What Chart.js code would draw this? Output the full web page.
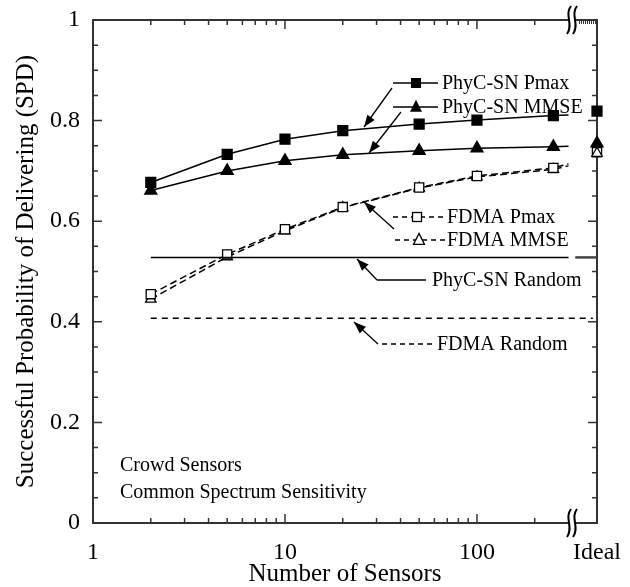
<!DOCTYPE html>
<html>
<head>
<meta charset="utf-8">
<script src="https://cdn.jsdelivr.net/npm/chart.js@4/dist/chart.umd.min.js"></script>
<style>
html,body{margin:0;padding:0;background:#fff;}
#c{display:block;}
</style>
</head>
<body>
<canvas id="c" width="630" height="587"></canvas>
<script>
// ---------- data ----------
const sensors   = [2, 5, 10, 20, 50, 100, 250, 300];          // last x: line end, no marker
const markerOn  = [1, 1, 1, 1, 1, 1, 1, 0];
const phycPmax  = [0.677, 0.733, 0.763, 0.780, 0.793, 0.801, 0.810, 0.811];
const phycMmse  = [0.661, 0.700, 0.720, 0.732, 0.740, 0.745, 0.748, 0.749];
const fdmaPmax  = [0.455, 0.534, 0.584, 0.628, 0.667, 0.690, 0.706, 0.714];
const fdmaMmse  = [0.445, 0.529, 0.581, 0.627, 0.666, 0.688, 0.703, 0.710];
const idealSeries = ['PhyC-SN Pmax', 'PhyC-SN MMSE', 'FDMA Pmax', 'FDMA MMSE'];
const idealSPD    = [0.819, 0.755, 0.737, 0.735];
const phycRandom  = 0.528;
const fdmaRandom  = 0.407;
const phycRandomX = [2, 300];
const phycRandomIdealX = [325, 422];
const fdmaRandomX = [2, 402];
const xTickValues = [1, 10, 100];
const idealLabel  = 'Ideal';
const X_MIN = 1, X_MAX = 422;
const yTickLabels = ['0', '0.2', '0.4', '0.6', '0.8', '1'];

const FONT = '"Liberation Serif", "Times New Roman", serif';
const pts = (xs, ys) => xs.map((x, i) => ({x: x, y: ys[i]}));

// ---------- plugin: frame, inward ticks, breaks, annotations ----------
const decor = {
  id: 'decor',
  beforeDatasetsDraw(chart) {
    const {ctx, chartArea: a, scales: {x, y}} = chart;
    const breakX = a.right - 25;
    ctx.save();
    ctx.strokeStyle = '#333';
    ctx.lineWidth = 2;
    ctx.lineCap = 'square';
    ctx.beginPath();
    ctx.moveTo(a.left, a.bottom); ctx.lineTo(a.right, a.bottom);
    ctx.moveTo(a.left, a.bottom); ctx.lineTo(a.left, a.top);
    ctx.moveTo(a.left, a.top); ctx.lineTo(a.right, a.top);
    ctx.moveTo(a.right, a.top); ctx.lineTo(a.right, a.bottom);
    ctx.stroke();
    // ticks
    ctx.lineWidth = 1.5;
    ctx.lineCap = 'butt';
    ctx.beginPath();
    for (const d of [1, 10, 100]) {
      for (let m = 1; m <= 9; m++) {
        const v = d * m;
        if (v > 200 || v <= X_MIN) continue;
        const px = x.getPixelForValue(v);
        const L = m === 1 ? 9 : 5;
        ctx.moveTo(px, a.bottom); ctx.lineTo(px, a.bottom - L);
        ctx.moveTo(px, a.top); ctx.lineTo(px, a.top + L);
      }
    }
    for (let i = 1; i < 20; i++) {
      const v = i * 0.05;
      const py = y.getPixelForValue(v);
      const L = i % 4 === 0 ? 9 : 5;
      ctx.moveTo(a.left, py); ctx.lineTo(a.left + L, py);
      ctx.moveTo(a.right, py); ctx.lineTo(a.right - L, py);
    }
    ctx.stroke();
    // dense hatch on top after the break
    ctx.lineWidth = 1;
    ctx.beginPath();
    for (let px = breakX + 7; px < a.right; px += 2) {
      ctx.moveTo(px + 0.5, a.top); ctx.lineTo(px + 0.5, a.top + 4);
    }
    ctx.stroke();
    // break symbols
    for (const yy of [a.top, a.bottom]) {
      ctx.fillStyle = '#fff';
      ctx.fillRect(breakX - 3, yy - 2, 6, 4);
      ctx.strokeStyle = '#000';
      ctx.lineWidth = 2;
      for (const dx of [-3, 3]) {
        const cx = breakX + dx;
        ctx.beginPath();
        ctx.moveTo(cx + 2, yy - 14);
        ctx.bezierCurveTo(cx - 5, yy - 5, cx + 5, yy + 4, cx - 2, yy + 14);
        ctx.stroke();
      }
    }
    ctx.restore();
  },
  afterDraw(chart) {
    const {ctx} = chart;
    ctx.save();
    ctx.fillStyle = '#000';
    ctx.strokeStyle = '#000';
    ctx.font = '20px ' + FONT;
    ctx.textBaseline = 'middle';
    ctx.textAlign = 'left';

    const arrow = (x1, y1, x2, y2) => {
      ctx.lineWidth = 1.3;
      ctx.setLineDash([]);
      ctx.beginPath(); ctx.moveTo(x1, y1); ctx.lineTo(x2, y2); ctx.stroke();
      const ang = Math.atan2(y2 - y1, x2 - x1);
      const L = 12, W = 4.5;
      ctx.beginPath();
      ctx.moveTo(x2, y2);
      ctx.lineTo(x2 - L * Math.cos(ang) + W * Math.sin(ang), y2 - L * Math.sin(ang) - W * Math.cos(ang));
      ctx.lineTo(x2 - L * Math.cos(ang) - W * Math.sin(ang), y2 - L * Math.sin(ang) + W * Math.cos(ang));
      ctx.closePath(); ctx.fill();
    };
    const legLine = (x1, x2, yy, dash) => {
      ctx.lineWidth = 1.3;
      ctx.setLineDash(dash);
      ctx.beginPath(); ctx.moveTo(x1, yy); ctx.lineTo(x2, yy); ctx.stroke();
      ctx.setLineDash([]);
    };
    const square = (cx, cy, s, filled) => {
      ctx.lineWidth = 1.3;
      if (filled) { ctx.fillRect(cx - s / 2, cy - s / 2, s, s); }
      else { ctx.fillStyle = '#fff'; ctx.fillRect(cx - s / 2, cy - s / 2, s, s); ctx.fillStyle = '#000'; ctx.strokeRect(cx - s / 2, cy - s / 2, s, s); }
    };
    const tri = (cx, cy, s, filled) => {
      ctx.lineWidth = 1.3;
      ctx.beginPath();
      ctx.moveTo(cx, cy - s * 0.6); ctx.lineTo(cx + s / 2, cy + s * 0.4); ctx.lineTo(cx - s / 2, cy + s * 0.4); ctx.closePath();
      if (filled) ctx.fill(); else { ctx.fillStyle = '#fff'; ctx.fill(); ctx.fillStyle = '#000'; ctx.stroke(); }
    };

    // PhyC-SN Pmax / MMSE
    legLine(393, 438, 83, []); square(416, 83, 10, true);
    ctx.fillText('PhyC-SN Pmax', 442, 84);
    legLine(393, 438, 107, []); tri(416, 107, 12, true);
    ctx.fillText('PhyC-SN MMSE', 442, 108);
    arrow(392, 88, 364, 127);
    arrow(401, 112, 369, 153);

    // FDMA Pmax / MMSE
    legLine(393, 443, 217, [5, 4]); square(417, 217, 9, false);
    ctx.fillText('FDMA Pmax', 447, 218);
    legLine(395, 445, 240, [5, 4]); tri(419, 240, 11, false);
    ctx.fillText('FDMA MMSE', 447, 241);
    arrow(394, 229, 364, 202);

    // Random
    legLine(377, 426, 280, []);
    ctx.fillText('PhyC-SN Random', 432, 281);
    arrow(377, 280, 357, 259);
    legLine(382, 433, 344, [5, 4]);
    ctx.fillText('FDMA Random', 437, 345);
    arrow(378, 344, 354, 322);

    // scenario text
    ctx.fillText('Crowd Sensors', 120, 466);
    ctx.fillText('Common Spectrum Sensitivity', 120, 493);
    ctx.restore();
  }
};

const solid = {borderColor: '#000', borderWidth: 1.5, pointBorderColor: '#000', pointBorderWidth: 1.3, showLine: true, clip: false};
const dashed = Object.assign({}, solid, {borderDash: [7, 4]});

new Chart(document.getElementById('c'), {
  type: 'scatter',
  data: {
    datasets: [
      Object.assign({}, solid, {label: 'PhyC-SN Random', data: pts(phycRandomX, phycRandomX.map(() => phycRandom)), pointRadius: 0}),
      Object.assign({}, solid, {label: 'PhyC-SN Random (Ideal)', data: pts(phycRandomIdealX, phycRandomIdealX.map(() => phycRandom)), pointRadius: 0, borderWidth: 2.5, borderColor: '#444'}),
      Object.assign({}, dashed, {label: 'FDMA Random', data: pts(fdmaRandomX, fdmaRandomX.map(() => fdmaRandom)), pointRadius: 0, borderDash: [6, 5]}),
      Object.assign({}, dashed, {label: 'FDMA Pmax', data: pts(sensors, fdmaPmax), pointStyle: 'rect', pointRadius: markerOn.map(m => m * 6.5), pointBackgroundColor: '#fff'}),
      Object.assign({}, dashed, {label: 'FDMA MMSE', data: pts(sensors, fdmaMmse), pointStyle: 'triangle', pointRadius: markerOn.map(m => m * 6), pointBackgroundColor: '#fff'}),
      Object.assign({}, solid, {label: 'PhyC-SN Pmax', data: pts(sensors, phycPmax), pointStyle: 'rect', pointRadius: markerOn.map(m => m * 7), pointBackgroundColor: '#000'}),
      Object.assign({}, solid, {label: 'PhyC-SN MMSE', data: pts(sensors, phycMmse), pointStyle: 'triangle', pointRadius: markerOn.map(m => m * 7), pointBackgroundColor: '#000'}),
      {label: idealLabel, data: idealSPD.map(v => ({x: X_MAX, y: v})), showLine: false, clip: false,
       pointStyle: ['rect', 'triangle', 'rect', 'triangle'], pointRadius: [7, 7, 6.5, 6],
       pointBackgroundColor: ['#000', '#000', '#fff', '#fff'], pointBorderColor: '#000', pointBorderWidth: 1.3}
    ]
  },
  options: {
    responsive: false,
    animation: false,
    events: [],
    layout: {padding: {left: 0, right: 33, top: 20, bottom: 0}},
    plugins: {legend: {display: false}, tooltip: {enabled: false}},
    scales: {
      x: {
        type: 'logarithmic', min: X_MIN, max: X_MAX,
        grid: {display: false, drawTicks: false}, border: {display: false},
        afterBuildTicks: s => { s.ticks = xTickValues.concat([X_MAX]).map(v => ({value: v})); },
        afterFit: s => { s.height = 64; s.paddingLeft = 0; s.paddingRight = 0; },
        ticks: {
          autoSkip: false, maxRotation: 0, padding: 18, color: '#000',
          font: {family: FONT, size: 24, lineHeight: 1},
          callback: v => v === X_MAX ? idealLabel : String(v)
        },
        title: {display: true, text: 'Number of Sensors', color: '#000', padding: {top: 0, bottom: 0},
                font: {family: FONT, size: 25, lineHeight: 1}}
      },
      y: {
        min: 0, max: 1,
        grid: {display: false, drawTicks: false}, border: {display: false},
        afterFit: s => { s.width = 93; s.paddingTop = 0; s.paddingBottom = 0; },
        ticks: {
          stepSize: 0.2, padding: 13, color: '#000',
          font: {family: FONT, size: 24, lineHeight: 1},
          callback: (v, i) => yTickLabels[Math.round(v / 0.2)]
        },
        title: {display: true, text: 'Successful Probability of Delivering (SPD)', color: '#000', padding: {top: 14, bottom: 0},
                font: {family: FONT, size: 25, lineHeight: 1}}
      }
    }
  },
  plugins: [decor]
});
</script>
</body>
</html>
